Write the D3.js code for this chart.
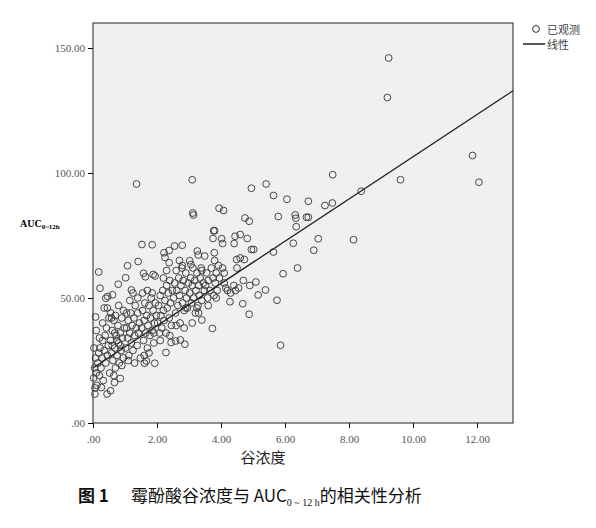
<!DOCTYPE html>
<html><head><meta charset="utf-8">
<script src="https://cdn.jsdelivr.net/npm/d3@7"></script>
<style>body{margin:0;background:#fff}</style></head>
<body><svg id="c" width="596" height="528"></svg>
<script>
const xTicks=[0,2,4,6,8,10,12];
const yTicks=[0,50,100,150];
const fitLine={intercept:22,slope:8.45};
const xs=[9.24,9.2,11.86,12.06,9.61,7.49,8.38,7.48,7.25,8.14,7.04,6.9,6.73,6.67,6.73,6.32,6.34,6.35,6.26,6.39,6.06,5.79,5.64,5.41,4.95,5.64,5.94,5.86,5.75,5.39,5.16,5.09,4.88,4.68,4.95,5.02,4.75,4.88,4.82,4.6,4.44,4.41,4.73,4.49,4.08,3.94,3.12,3.14,3.1,1.36,1.53,1.85,0.18,0.22,1.08,1.41,3.77,3.8,3.75,4.02,4.05,2.79,2.22,2.38,2.55,2.25,3.26,3.29,3.02,3.06,3.49,3.79,2.79,2.38,1.58,1.64,1.88,1.94,0.79,1.02,1.2,0.61,0.35,0.4,0.46,0.08,4.28,3.4,3.73,2.87,2.58,2.73,2.44,2.28,1.93,1.61,1.67,0.55,0.44,0.06,0.26,0.85,0.67,
0.02,0.05,0.08,0.1,0.12,0.15,0.18,0.2,0.22,0.25,0.28,0.3,0.32,0.35,0.38,0.4,0.42,0.45,0.48,0.5,0.03,0.06,0.3,0.45,0.2,0.1,
0.52,0.55,0.58,0.6,0.62,0.65,0.68,0.7,0.72,0.75,0.78,0.8,0.82,0.85,0.88,0.9,0.92,0.95,0.98,0.6,0.7,0.75,0.85,0.9,0.65,0.55,0.8,0.95,0.58,0.68,
1.02,1.05,1.08,1.1,1.12,1.15,1.18,1.2,1.22,1.25,1.28,1.3,1.32,1.35,1.38,1.4,1.42,1.45,1.48,1.15,1.25,1.05,1.3,1.4,1.1,
1.52,1.55,1.58,1.6,1.62,1.65,1.68,1.7,1.72,1.75,1.78,1.8,1.82,1.85,1.88,1.9,1.92,1.95,1.98,1.55,1.7,1.85,1.6,1.75,1.9,
2.02,2.05,2.08,2.1,2.12,2.15,2.18,2.2,2.22,2.25,2.28,2.3,2.32,2.35,2.38,2.4,2.42,2.45,2.48,2.1,2.3,2.4,2.2,
2.52,2.55,2.58,2.6,2.62,2.65,2.68,2.7,2.72,2.75,2.78,2.8,2.82,2.85,2.88,2.9,2.92,2.95,2.98,2.6,2.85,2.7,2.9,
3.02,3.05,3.08,3.1,3.12,3.15,3.18,3.2,3.22,3.25,3.28,3.3,3.32,3.35,3.38,3.4,3.45,3.48,3.1,3.3,3.25,3.4,
3.52,3.55,3.58,3.6,3.65,3.7,3.75,3.78,3.82,3.85,3.88,3.92,3.95,3.6,3.8,3.85,
4.05,4.1,4.15,4.2,4.3,4.4,4.45,4.5,4.55,4.7,4.9,4.6,4.1];
const ys=[146,130.2,107,96.3,97.3,99.3,92.7,88,87,73.3,73.7,69.1,88.7,82.3,82.3,83.2,81.9,78.5,71.9,62,89.5,82.6,91,95.6,93.9,68.4,59.7,31.1,49.1,53.2,51.2,56.4,43.5,47.7,69.4,69.4,82,80.7,73.8,75.4,74.7,71.8,65.4,65.4,85,85.9,84,83.2,97.3,95.6,71.4,71.3,60.4,53.9,62.9,64.6,76.9,76.9,73.8,73.7,71.8,71.1,68.1,69,70.8,66.2,68.8,67.2,64.9,63.4,66.8,68.1,63,64.1,59.9,58.5,59.4,58.8,55.5,58.1,53.2,51.3,46,49.9,50.6,42.4,48.5,41.2,37.8,31.5,32.8,33.2,32.2,28.2,23.9,23.9,24.8,12.9,11.6,11.6,14.2,17.8,16.2,
18,22,26,20,15,24,28,19,30,22,26,33,17,29,35,24,38,27,31,42,30,14,40,46,34,37,
20,33,28,37,25,41,30,22,35,27,39,32,24,36,29,42,34,26,38,31,43,33,31,23,19,44,47,45,42,36,
30,38,34,41,27,36,44,32,39,29,42,35,47,38,31,44,36,40,26,49,52,44,24,50,25,
38,45,33,41,48,36,43,30,39,47,35,42,50,37,45,32,40,48,43,52,53,52,27,28,36,
40,47,36,51,43,38,53,45,41,49,36,55,46,52,42,57,48,39,53,33,61,35,58,
50,56,44,61,53,47,58,51,40,55,62,48,57,45,53,60,50,46,56,39,38,65,46,
52,58,48,55,62,50,57,44,53,60,47,55,51,58,62,49,56,53,40,44,46,61,
55,60,50,57,53,62,58,51,56,60,53,63,58,47,65,50,
62,56,54,53,52,55,53,62,54,57,55,66,60];

const svg=d3.select("#c");
const L=93,R=513,T=23,B=423;
const x=d3.scaleLinear().domain([0,13.125]).range([L,R]);
const y=d3.scaleLinear().domain([0,160]).range([B,T]);
svg.append("rect").attr("x",L).attr("y",T).attr("width",R-L).attr("height",B-T).attr("fill","#f0f0f0");
const serif="'Liberation Serif','DejaVu Serif',serif";
const fmt=d=>d===0?".00":d3.format(".2f")(d);
const xa=svg.append("g").attr("transform",`translate(0,${B})`).call(d3.axisBottom(x).tickValues(xTicks).tickSize(5).tickFormat(fmt));
const ya=svg.append("g").attr("transform",`translate(${L},0)`).call(d3.axisLeft(y).tickValues(yTicks).tickSize(5).tickFormat(fmt));
[xa,ya].forEach(a=>{a.select(".domain").remove();a.selectAll("text").attr("font-family",serif).attr("font-size",11).attr("fill","#555");a.selectAll("line").attr("stroke","#000");});
xa.selectAll("text").attr("dy","1.1em");
svg.append("rect").attr("x",L).attr("y",T).attr("width",R-L).attr("height",B-T).attr("fill","none").attr("stroke","#222").attr("stroke-width",1);
const g=svg.append("g");
g.selectAll("circle").data(xs.map((v,i)=>[v,ys[i]])).join("circle")
 .attr("cx",d=>x(d[0])).attr("cy",d=>y(d[1])).attr("r",3.4)
 .attr("fill","none").attr("stroke","#333").attr("stroke-width",0.9);
const x1=13.125;
svg.append("line").attr("x1",x(0)).attr("y1",y(fitLine.intercept)).attr("x2",x(x1)).attr("y2",y(fitLine.intercept+fitLine.slope*x1)).attr("stroke","#222").attr("stroke-width",1.3);
// legend
svg.append("circle").attr("cx",536).attr("cy",29).attr("r",3.4).attr("fill","none").attr("stroke","#333");
svg.append("text").attr("x",547).attr("y",34).text("已观测").attr("font-size",11).attr("fill","#444").attr("font-family","'Noto Sans CJK SC'");
svg.append("line").attr("x1",523).attr("x2",545).attr("y1",44).attr("y2",44).attr("stroke","#222").attr("stroke-width",1.5);
svg.append("text").attr("x",547).attr("y",49).text("线性").attr("font-size",11).attr("fill","#444").attr("font-family","'Noto Sans CJK SC'");
// y label
const yl=svg.append("text").attr("x",20).attr("y",227).attr("font-family",serif).attr("font-weight","bold").attr("font-size",10);
yl.append("tspan").text("AUC");
yl.append("tspan").text("0~12h").attr("font-size",7).attr("dy",2);
svg.append("text").attr("x",263).attr("y",463).attr("text-anchor","middle").text("谷浓度").attr("font-size",15).attr("fill","#222").attr("font-family","'Noto Sans CJK SC'");
const cap=svg.append("text").attr("x",78).attr("y",502).attr("font-size",17).attr("fill","#111").attr("font-family","'Noto Sans CJK SC'");
cap.append("tspan").text("图 1").attr("font-weight","bold");
cap.append("tspan").text("霉酚酸谷浓度与 AUC").attr("dx",22);
cap.append("tspan").text("0 ~ 12 h").attr("font-size",10).attr("dy",4).attr("font-family",serif);
cap.append("tspan").text("的相关性分析").attr("dy",-4);
</script></body></html>
